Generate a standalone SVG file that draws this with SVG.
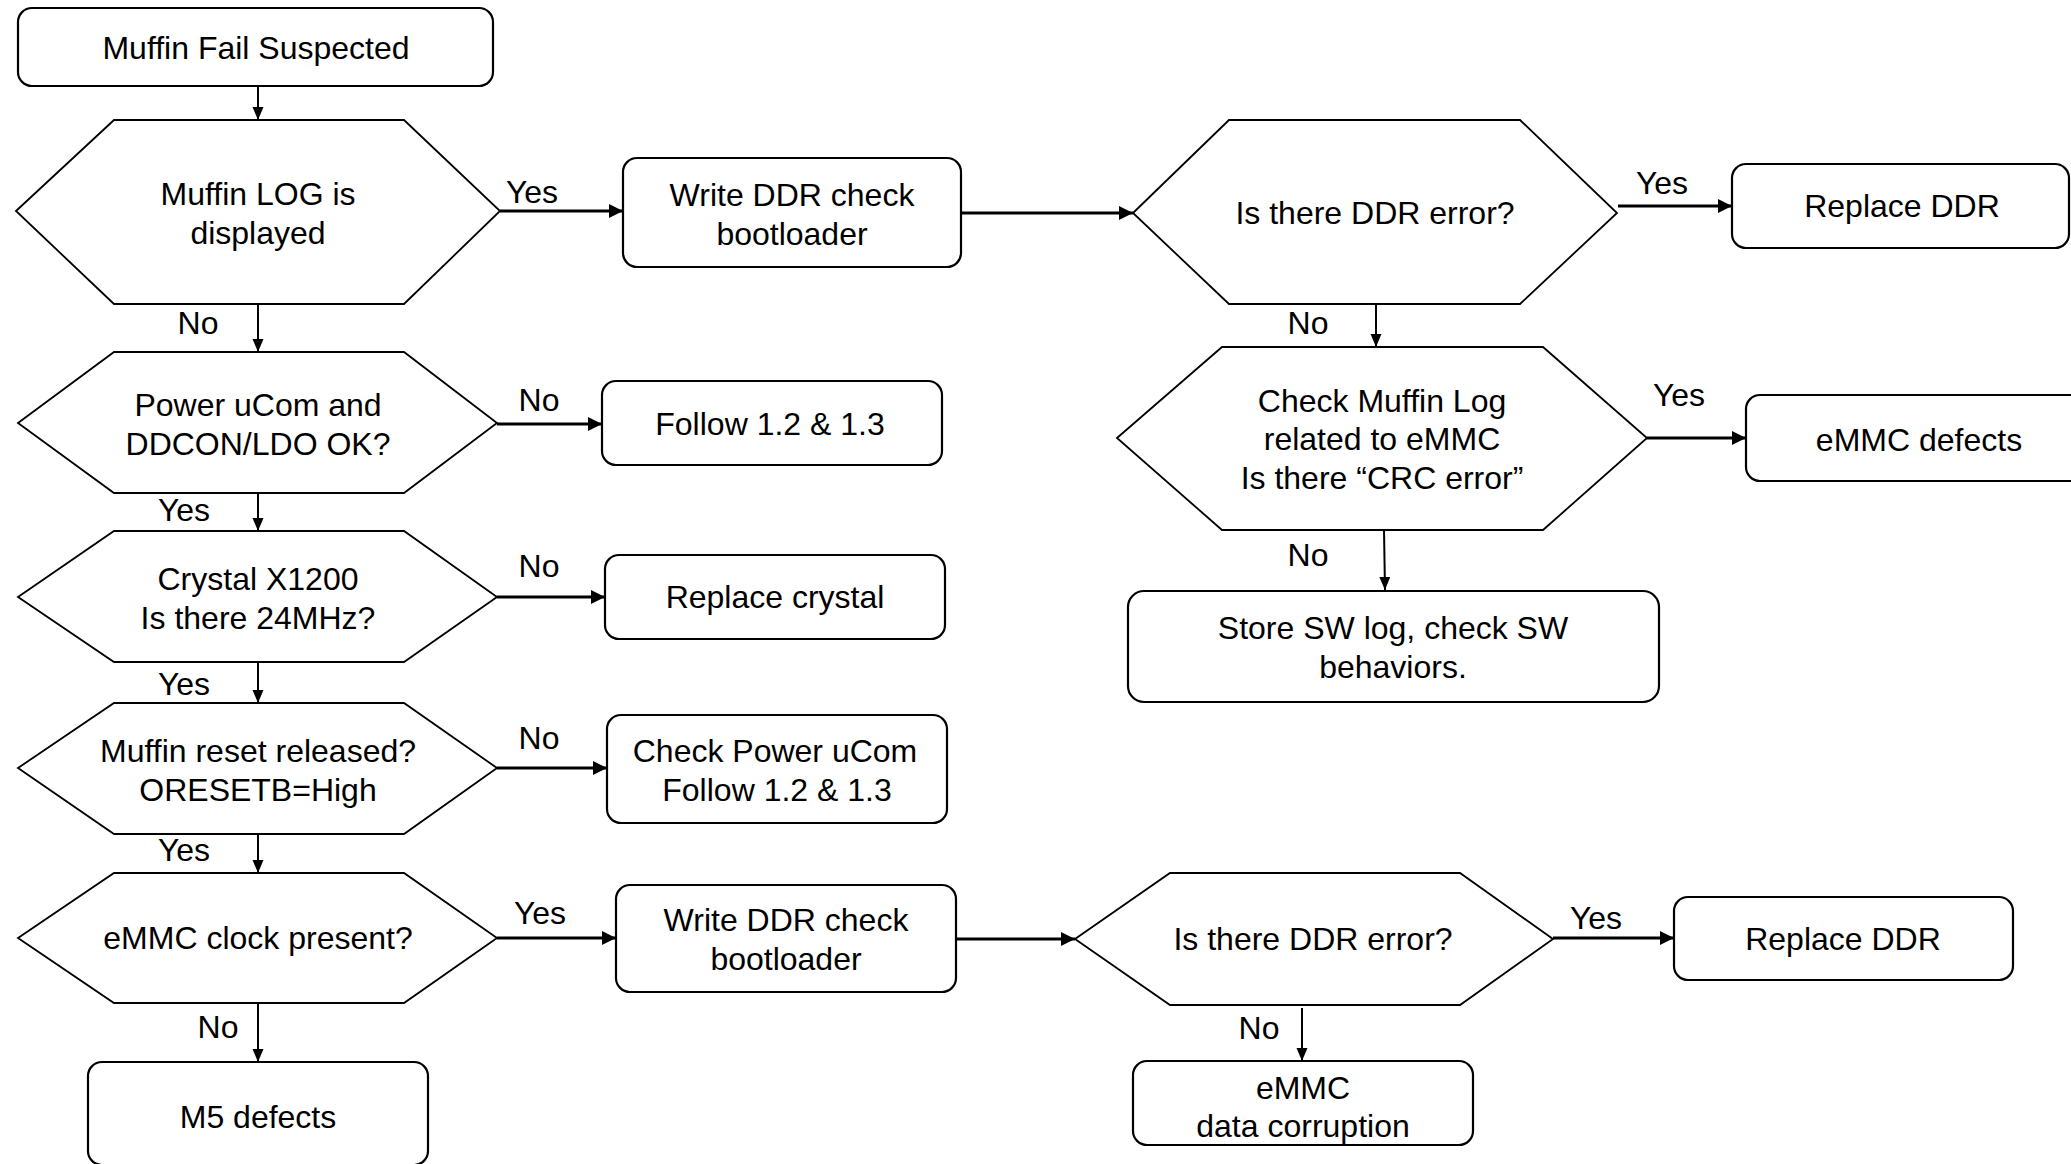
<svg xmlns="http://www.w3.org/2000/svg" width="2071" height="1164" viewBox="0 0 2071 1164">
<style>
.box{fill:#fff;stroke:#000;stroke-width:2.2}
.hex{fill:#fff;stroke:#000;stroke-width:1.8}
.t{font-family:"Liberation Sans",Arial,sans-serif;font-size:32px;fill:#000;text-anchor:middle}
.h{stroke:#000;stroke-width:3;fill:none;marker-end:url(#ah)}
.v{stroke:#000;stroke-width:2;fill:none;marker-end:url(#av)}
</style>
<defs>
<marker id="ah" markerUnits="userSpaceOnUse" markerWidth="16" markerHeight="16" refX="14" refY="7" orient="auto"><path d="M0,0 L14,7 L0,14 z" fill="#000"/></marker>
<marker id="av" markerUnits="userSpaceOnUse" markerWidth="16" markerHeight="16" refX="13" refY="5.5" orient="auto"><path d="M0,0 L13,5.5 L0,11 z" fill="#000"/></marker>
</defs>
<rect width="2071" height="1164" fill="#fff"/>
<g id="connectors">
<line class="v" x1="258" y1="86" x2="258" y2="120"/>
<line class="h" x1="500" y1="211" x2="623" y2="211"/>
<line class="h" x1="961" y1="213" x2="1133" y2="213"/>
<line class="h" x1="1618" y1="206" x2="1732" y2="206"/>
<line class="v" x1="1376" y1="304" x2="1376" y2="347"/>
<line class="h" x1="1647" y1="438" x2="1746" y2="438"/>
<line class="v" x1="1384" y1="530" x2="1385" y2="590"/>
<line class="v" x1="258" y1="304" x2="258" y2="352"/>
<line class="h" x1="497" y1="424" x2="602" y2="424"/>
<line class="v" x1="258" y1="493" x2="258" y2="531"/>
<line class="h" x1="497" y1="597" x2="605" y2="597"/>
<line class="v" x1="258" y1="662" x2="258" y2="703"/>
<line class="h" x1="497" y1="768" x2="607" y2="768"/>
<line class="v" x1="258" y1="834" x2="258" y2="873"/>
<line class="h" x1="497" y1="938" x2="616" y2="938"/>
<line class="v" x1="258" y1="1003" x2="258" y2="1062"/>
<line class="h" x1="956" y1="939" x2="1075" y2="939"/>
<line class="h" x1="1553" y1="938" x2="1674" y2="938"/>
<line class="v" x1="1302" y1="1008" x2="1302" y2="1061"/>
<text class="t" x="532" y="203">Yes</text>
<text class="t" x="198" y="334">No</text>
<text class="t" x="539" y="411">No</text>
<text class="t" x="184" y="521">Yes</text>
<text class="t" x="539" y="577">No</text>
<text class="t" x="184" y="695">Yes</text>
<text class="t" x="539" y="749">No</text>
<text class="t" x="184" y="861">Yes</text>
<text class="t" x="540" y="924">Yes</text>
<text class="t" x="218" y="1038">No</text>
<text class="t" x="1662" y="194">Yes</text>
<text class="t" x="1308" y="334">No</text>
<text class="t" x="1679" y="406">Yes</text>
<text class="t" x="1308" y="566">No</text>
<text class="t" x="1596" y="929">Yes</text>
<text class="t" x="1259" y="1039">No</text>
</g>
<g id="start"><rect class="box" x="18" y="8" width="475" height="78" rx="14"/><text class="t" x="256" y="59">Muffin Fail Suspected</text></g>
<g id="q_log"><polygon class="hex" points="16,211 114,120 404,120 500,211 404,304 114,304"/><text class="t" x="258" y="205">Muffin LOG is</text><text class="t" x="258" y="244">displayed</text></g>
<g id="write_ddr1"><rect class="box" x="623" y="158" width="338" height="109" rx="14"/><text class="t" x="792" y="206">Write DDR check</text><text class="t" x="792" y="245">bootloader</text></g>
<g id="q_ddr1"><polygon class="hex" points="1133,213 1229,120 1520,120 1617,213 1520,304 1229,304"/><text class="t" x="1375" y="224">Is there DDR error?</text></g>
<g id="replace_ddr1"><rect class="box" x="1732" y="164" width="337" height="84" rx="14"/><text class="t" x="1902" y="217">Replace DDR</text></g>
<g id="q_crc"><polygon class="hex" points="1117,438 1222,347 1543,347 1647,438 1543,530 1222,530"/><text class="t" x="1382" y="412">Check Muffin Log</text><text class="t" x="1382" y="450">related to eMMC</text><text class="t" x="1382" y="489">Is there “CRC error”</text></g>
<g id="emmc_defects"><rect class="box" x="1746" y="395" width="340" height="86" rx="14"/><text class="t" x="1919" y="451">eMMC defects</text></g>
<g id="store_sw"><rect class="box" x="1128" y="591" width="531" height="111" rx="16"/><text class="t" x="1393" y="639">Store SW log, check SW</text><text class="t" x="1393" y="678">behaviors.</text></g>
<g id="q_power"><polygon class="hex" points="18,423 114,352 404,352 497,423 404,493 114,493"/><text class="t" x="258" y="416">Power uCom and</text><text class="t" x="258" y="455">DDCON/LDO OK?</text></g>
<g id="follow1"><rect class="box" x="602" y="381" width="340" height="84" rx="14"/><text class="t" x="770" y="435">Follow 1.2 &amp; 1.3</text></g>
<g id="q_crystal"><polygon class="hex" points="18,597 114,531 404,531 497,597 404,662 114,662"/><text class="t" x="258" y="590">Crystal X1200</text><text class="t" x="258" y="629">Is there 24MHz?</text></g>
<g id="replace_crystal"><rect class="box" x="605" y="555" width="340" height="84" rx="14"/><text class="t" x="775" y="608">Replace crystal</text></g>
<g id="q_reset"><polygon class="hex" points="18,768 114,703 404,703 497,768 404,834 114,834"/><text class="t" x="258" y="762">Muffin reset released?</text><text class="t" x="258" y="801">ORESETB=High</text></g>
<g id="check_power"><rect class="box" x="607" y="715" width="340" height="108" rx="14"/><text class="t" x="775" y="762">Check Power uCom</text><text class="t" x="777" y="801">Follow 1.2 &amp; 1.3</text></g>
<g id="q_clock"><polygon class="hex" points="18,938 114,873 404,873 497,938 404,1003 114,1003"/><text class="t" x="258" y="949">eMMC clock present?</text></g>
<g id="write_ddr2"><rect class="box" x="616" y="885" width="340" height="107" rx="14"/><text class="t" x="786" y="931">Write DDR check</text><text class="t" x="786" y="970">bootloader</text></g>
<g id="m5_defects"><rect class="box" x="88" y="1062" width="340" height="103" rx="14"/><text class="t" x="258" y="1128">M5 defects</text></g>
<g id="q_ddr2"><polygon class="hex" points="1075,939 1170,873 1460,873 1553,939 1460,1005 1170,1005"/><text class="t" x="1313" y="950">Is there DDR error?</text></g>
<g id="replace_ddr2"><rect class="box" x="1674" y="897" width="339" height="83" rx="14"/><text class="t" x="1843" y="950">Replace DDR</text></g>
<g id="emmc_corruption"><rect class="box" x="1133" y="1061" width="340" height="84" rx="14"/><text class="t" x="1303" y="1099">eMMC</text><text class="t" x="1303" y="1137">data corruption</text></g>
</svg>
